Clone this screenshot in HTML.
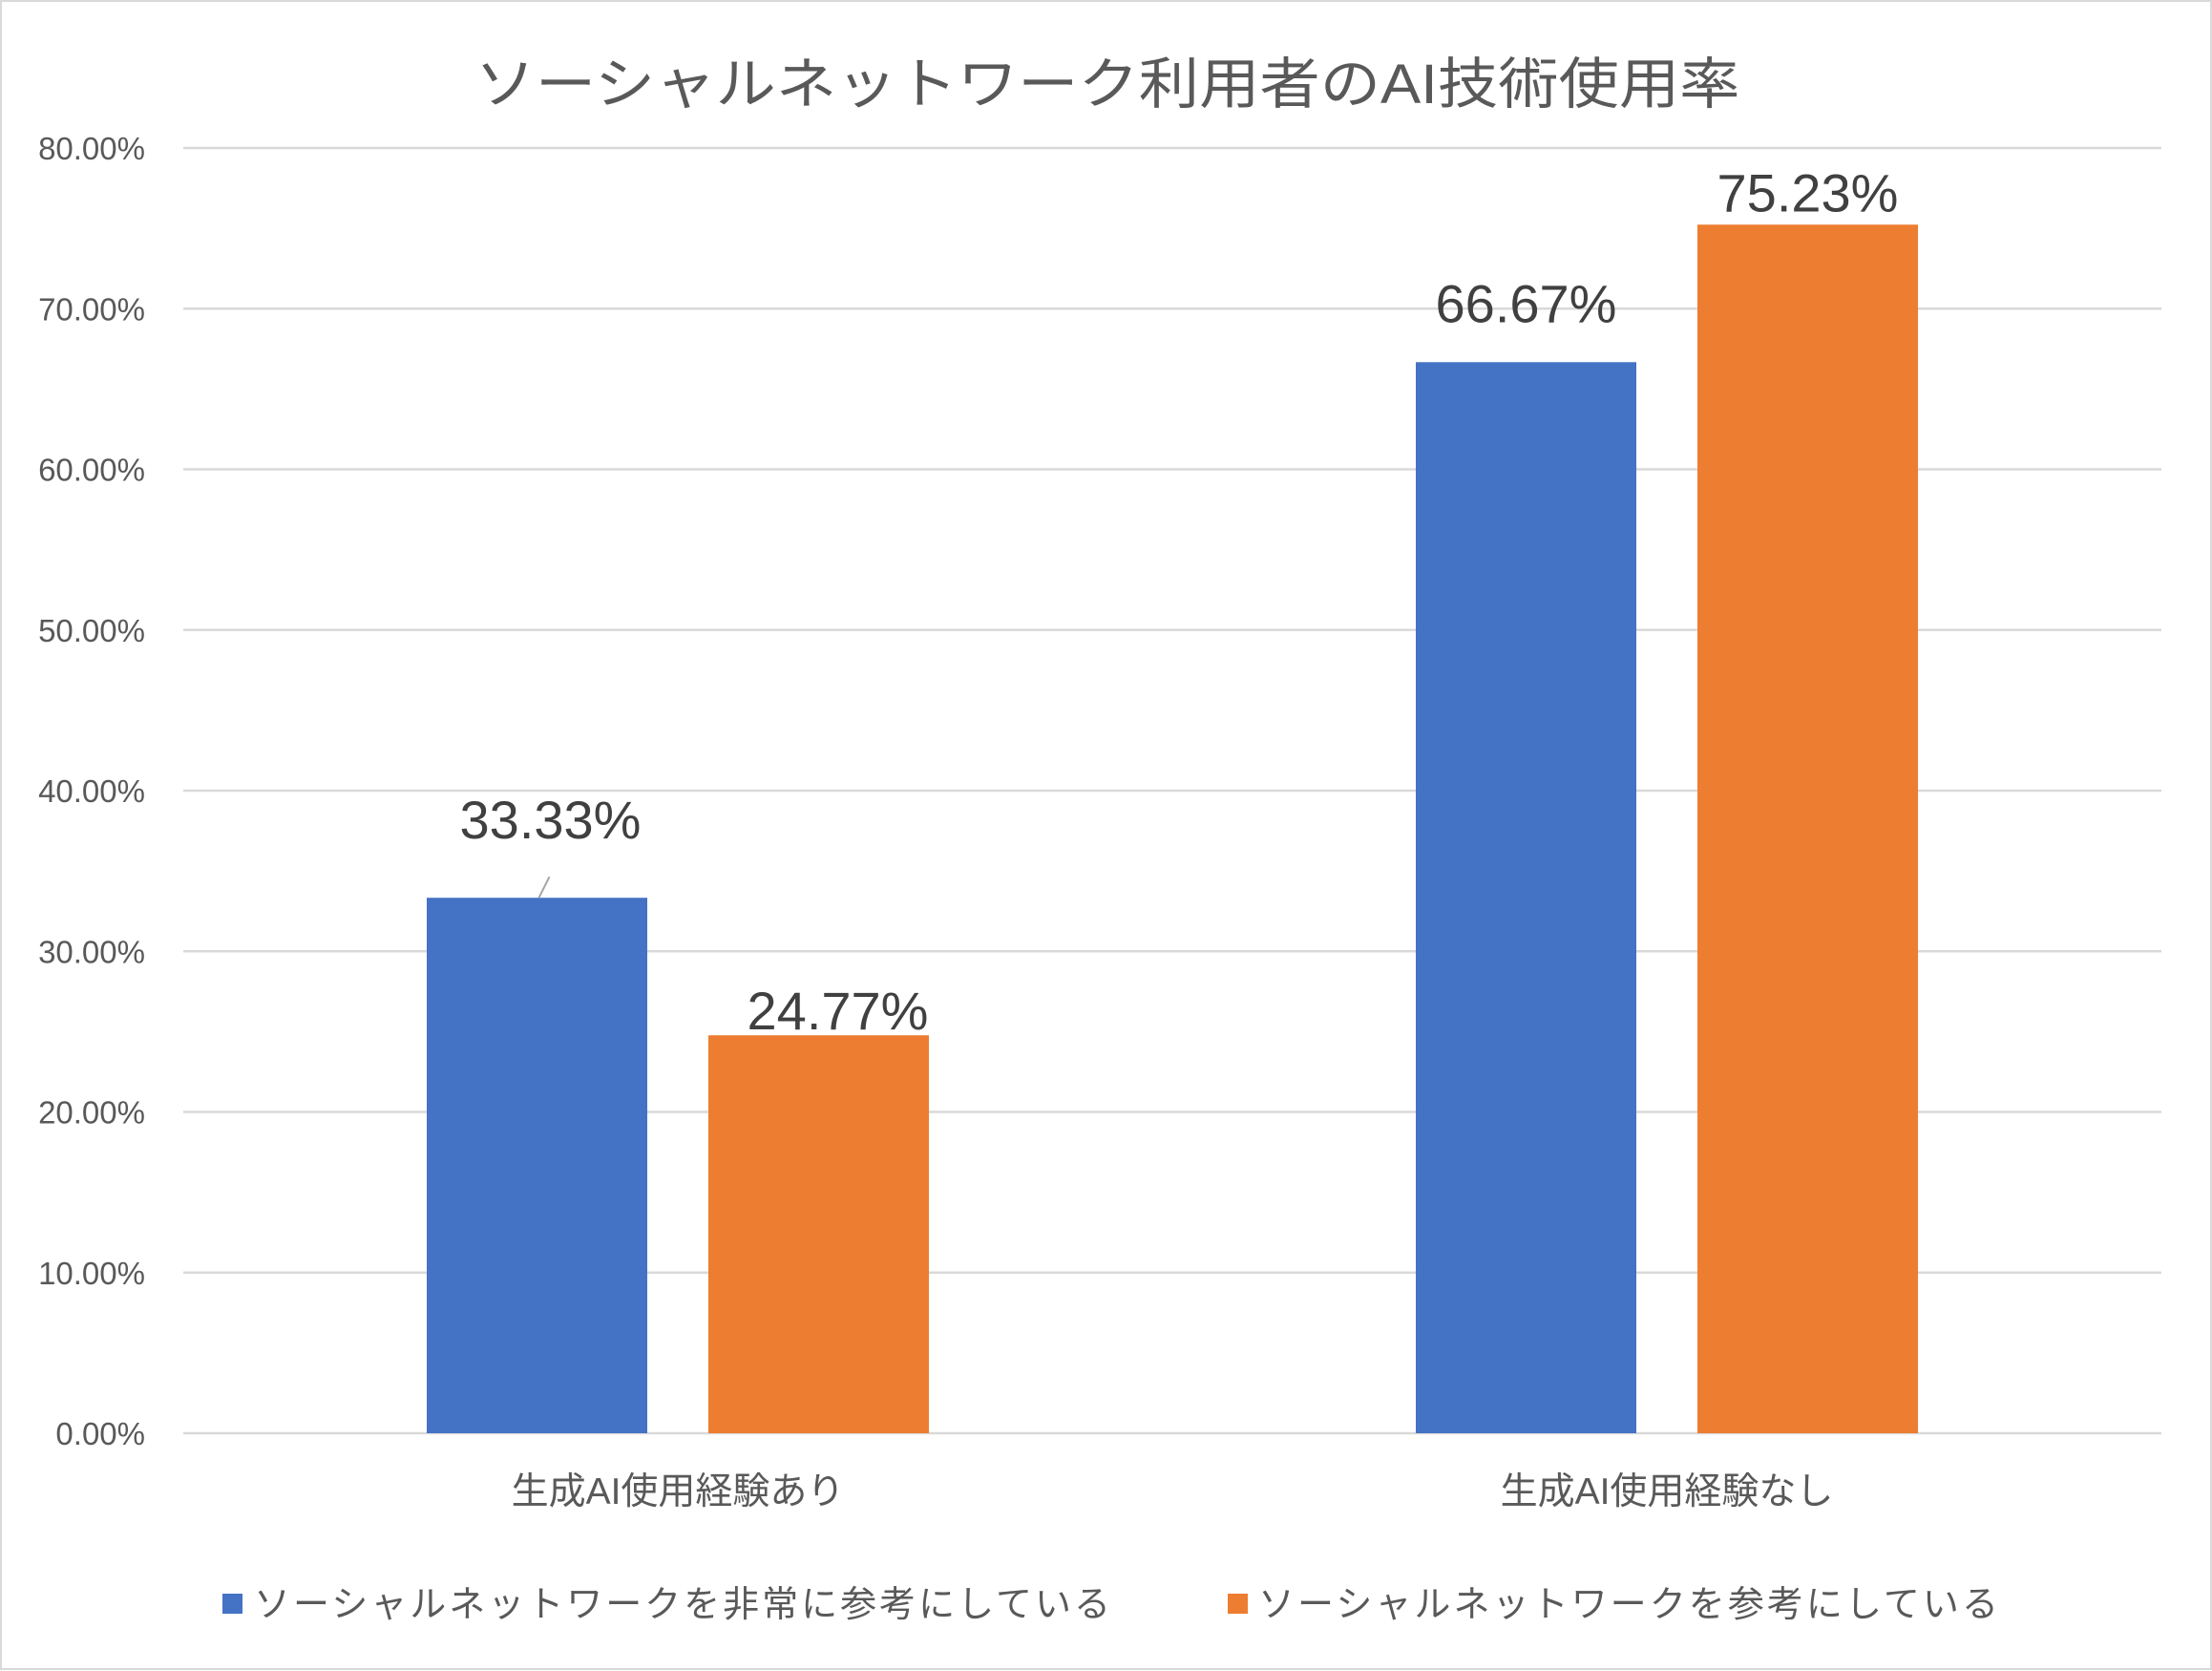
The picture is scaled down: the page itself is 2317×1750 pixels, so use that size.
<!DOCTYPE html>
<html><head><meta charset="utf-8"><style>
html,body{margin:0;padding:0;background:#fff}
svg{display:block}
text{font-family:"Liberation Sans","Noto Sans CJK JP",sans-serif}
</style></head><body>
<svg id="chart" width="2317" height="1750" viewBox="0 0 2317 1750" xmlns="http://www.w3.org/2000/svg">
<rect x="1" y="1" width="2315" height="1747" fill="#fff" stroke="#d9d9d9" stroke-width="2"/>
<text x="1160" y="108" text-anchor="middle" font-size="58" fill="#595959" textLength="1325" lengthAdjust="spacingAndGlyphs">ソーシャルネットワーク利用者のAI技術使用率</text>
<g id="grid"></g><g id="bars"></g><g id="labels"></g>
<g>
<rect x="233" y="1669" width="21" height="21" fill="#4472c4"/>
<text x="266" y="1693" font-size="38" fill="#595959" textLength="897" lengthAdjust="spacing">ソーシャルネットワークを非常に参考にしている</text>
<rect x="1286" y="1669" width="21" height="21" fill="#ed7d31"/>
<text x="1318" y="1693" font-size="38" fill="#595959" textLength="775" lengthAdjust="spacing">ソーシャルネットワークを参考にしている</text>
</g>
</svg>
<script>
const categories = ["生成AI使用経験あり", "生成AI使用経験なし"];
const seriesVery = [33.33, 66.67];
const seriesRef = [24.77, 75.23];
const yTicks = [0, 10, 20, 30, 40, 50, 60, 70, 80];
const NS = "http://www.w3.org/2000/svg";
const X0 = 192, X1 = 2264, Y0 = 1501, Y1 = 155, YMAX = 80;
const y = v => Y0 - (v / YMAX) * (Y0 - Y1);
const catW = (X1 - X0) / categories.length;
const xc = i => X0 + catW * (i + 0.5);
const BW = 231, GAP = 64;
function mk(tag, attrs, parent, txt) {
  const e = document.createElementNS(NS, tag);
  for (const k in attrs) e.setAttribute(k, attrs[k]);
  if (txt !== undefined) e.textContent = txt;
  parent.appendChild(e);
  return e;
}
const grid = document.getElementById('grid');
yTicks.forEach(t => {
  const l = mk('line', {x1: X0, x2: X1, y1: y(t), y2: y(t), stroke: '#d9d9d9', 'stroke-width': 2.5}, grid);
  
  
  const tx = mk('text', {x: 152, y: y(t) + 12, 'text-anchor': 'end', 'font-size': 33, fill: '#595959'}, grid, t.toFixed(2) + '%');
  
  
});
const bars = document.getElementById('bars'), labels = document.getElementById('labels');
const series = [{v: seriesVery, c: '#4472c4', n: 'very'}, {v: seriesRef, c: '#ed7d31', n: 'ref'}];
categories.forEach((cat, i) => {
  const ct = mk('text', {x: xc(i), y: 1575, 'text-anchor': 'middle', 'font-size': 39, fill: '#595959'}, labels, cat);
  
  
  series.forEach((s, j) => {
    const bx = j === 0 ? xc(i) - GAP / 2 - BW : xc(i) + GAP / 2;
    const r = mk('rect', {x: bx, y: y(s.v[i]), width: BW, height: Y0 - y(s.v[i]), fill: s.c}, bars);
    
    
    let lx = bx + BW / 2, ly = y(s.v[i]) - 14;
    if (i === 0 && j === 0) {
      lx += 14; ly -= 48;
      const ll = mk('line', {x1: bx + BW / 2 + 2, y1: y(s.v[i]), x2: bx + BW / 2 + 13, y2: y(s.v[i]) - 22, stroke: '#a6a6a6', 'stroke-width': 2}, labels);
      
      
    }
    if (i === 0 && j === 1) { lx += 20; ly += 8; }
    if (i === 1 && j === 0) ly -= 28;
    const lt = mk('text', {x: lx, y: ly, 'text-anchor': 'middle', 'font-size': 56, fill: '#404040'}, labels, s.v[i].toFixed(2) + '%');
    
    
  });
});
</script>
</body></html>
